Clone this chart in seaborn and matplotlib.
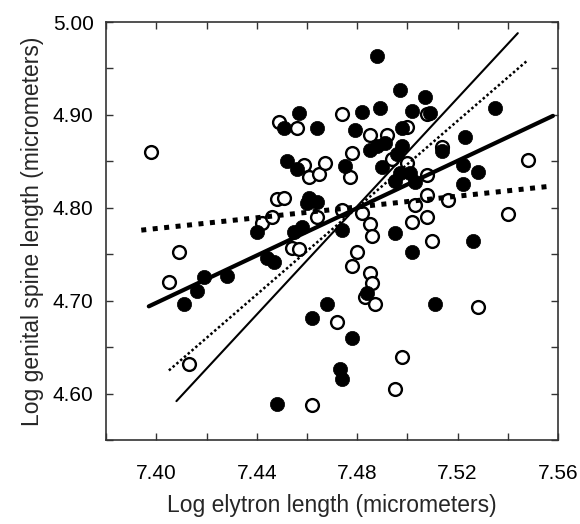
import matplotlib
matplotlib.use("Agg")
import matplotlib.pyplot as plt
from matplotlib.ticker import MultipleLocator, FormatStrFormatter
import seaborn as sns

# filled circles
filled_x = [7.488, 7.497, 7.507, 7.535, 7.457, 7.482, 7.489, 7.502, 7.509, 7.451,
            7.464, 7.479, 7.498, 7.485, 7.488, 7.491, 7.498, 7.496, 7.514, 7.523,
            7.452, 7.456, 7.475, 7.490, 7.497, 7.495, 7.503, 7.522, 7.528, 7.522,
            7.461, 7.464, 7.460, 7.458, 7.455, 7.440, 7.474, 7.495, 7.526, 7.502,
            7.444, 7.447, 7.419, 7.428, 7.416, 7.411, 7.468, 7.511, 7.462, 7.478,
            7.484, 7.473, 7.474, 7.448, 7.501]
filled_y = [4.963, 4.927, 4.919, 4.907, 4.902, 4.903, 4.907, 4.904, 4.902, 4.886,
            4.886, 4.884, 4.886, 4.862, 4.867, 4.870, 4.867, 4.858, 4.861, 4.876,
            4.850, 4.842, 4.845, 4.844, 4.837, 4.829, 4.828, 4.846, 4.839, 4.826,
            4.811, 4.806, 4.805, 4.779, 4.774, 4.774, 4.776, 4.773, 4.764, 4.752,
            4.746, 4.742, 4.726, 4.727, 4.711, 4.697, 4.697, 4.696, 4.681, 4.660,
            4.708, 4.627, 4.616, 4.589, 4.837]

# open circles
open_x = [7.398, 7.449, 7.456, 7.474, 7.508, 7.485, 7.492, 7.500, 7.478, 7.494,
          7.514, 7.500, 7.508, 7.459, 7.461, 7.465, 7.467, 7.477, 7.548, 7.448,
          7.451, 7.464, 7.474, 7.442, 7.446, 7.454, 7.457, 7.409, 7.405, 7.508,
          7.516, 7.503, 7.540, 7.502, 7.508, 7.482, 7.485, 7.486, 7.510, 7.480,
          7.478, 7.485, 7.486, 7.483, 7.487, 7.528, 7.472, 7.413, 7.498, 7.495,
          7.462]
open_y = [4.860, 4.892, 4.886, 4.901, 4.901, 4.878, 4.878, 4.887, 4.859, 4.853,
          4.865, 4.848, 4.835, 4.846, 4.833, 4.836, 4.848, 4.833, 4.851, 4.810,
          4.811, 4.790, 4.798, 4.784, 4.790, 4.757, 4.756, 4.752, 4.720, 4.814,
          4.808, 4.803, 4.793, 4.785, 4.790, 4.794, 4.783, 4.770, 4.764, 4.752,
          4.737, 4.730, 4.719, 4.704, 4.696, 4.693, 4.677, 4.632, 4.640, 4.605,
          4.588]

# regression lines (end points)
thick_solid_x = [7.397, 7.558]
thick_solid_y = [4.694, 4.899]
thick_dot_x = [7.394, 7.556]
thick_dot_y = [4.776, 4.823]
thin_solid_x = [7.408, 7.544]
thin_solid_y = [4.592, 4.988]
thin_dot_x = [7.405, 7.548]
thin_dot_y = [4.625, 4.959]

sns.set_style("ticks")
plt.rcParams["font.family"] = ["Liberation Sans", "DejaVu Sans"]

fig = plt.figure(figsize=(5.8, 5.24), dpi=100)
ax = fig.add_axes([0.183, 0.160, 0.779, 0.798])

sns.scatterplot(x=open_x, y=open_y, ax=ax, s=85, color="white",
                edgecolor="black", linewidth=1.7, zorder=2)
sns.scatterplot(x=filled_x, y=filled_y, ax=ax, s=105, color="black",
                edgecolor="black", linewidth=0.5, zorder=3)

sns.lineplot(x=thick_solid_x, y=thick_solid_y, ax=ax, color="black", lw=3.0, zorder=4)
sns.lineplot(x=thick_dot_x, y=thick_dot_y, ax=ax, color="black", lw=3.6,
             linestyle=(0, (1, 1.3)), dash_capstyle="butt", zorder=4)
sns.lineplot(x=thin_solid_x, y=thin_solid_y, ax=ax, color="black", lw=1.5, zorder=4)
sns.lineplot(x=thin_dot_x, y=thin_dot_y, ax=ax, color="black", lw=1.8,
             linestyle=(0, (1, 1)), dash_capstyle="butt", zorder=4)

ax.set_xlim(7.38, 7.56)
ax.set_ylim(4.55, 5.00)
ax.xaxis.set_major_locator(MultipleLocator(0.04))
ax.xaxis.set_minor_locator(MultipleLocator(0.02))
ax.yaxis.set_major_locator(MultipleLocator(0.1))
ax.yaxis.set_minor_locator(MultipleLocator(0.05))
ax.xaxis.set_major_formatter(FormatStrFormatter("%.2f"))
ax.yaxis.set_major_formatter(FormatStrFormatter("%.2f"))
ax.tick_params(which="both", direction="in", length=5, width=1,
               top=True, right=True, colors="#333333", labelcolor="black",
               labelsize=15)
ax.tick_params(axis="x", pad=17)
ax.tick_params(axis="y", pad=9)
for sp in ax.spines.values():
    sp.set_linewidth(1.2)
    sp.set_color("#333333")

ax.set_xlabel("Log elytron length (micrometers)", fontsize=16.5, labelpad=8)
ax.set_ylabel("Log genital spine length (micrometers)", fontsize=16.5, labelpad=6)

fig.savefig("out.png", dpi=100)
